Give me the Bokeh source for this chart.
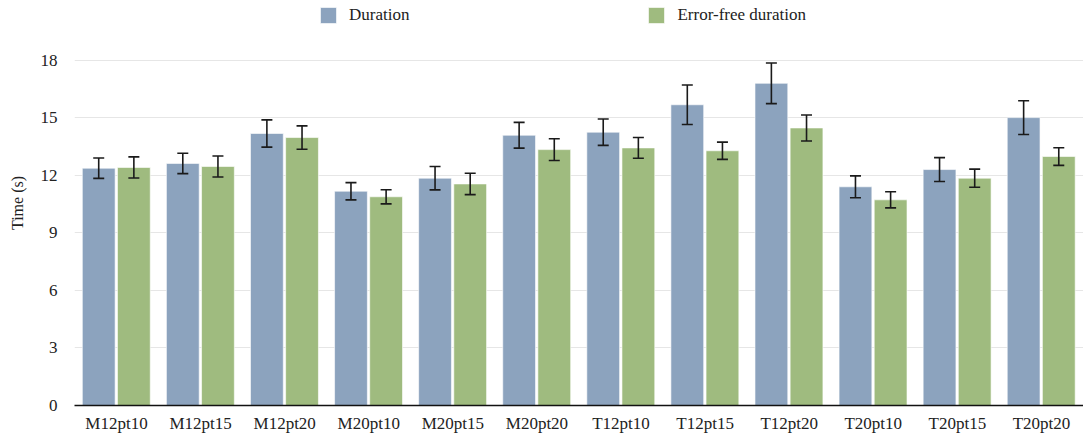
from bokeh.plotting import figure
from bokeh.models import (ColumnDataSource, FactorRange, FixedTicker, Whisker,
                          TeeHead, Legend, LegendItem, Range1d)
from bokeh.transform import dodge
from bokeh.embed import file_html
from bokeh.resources import INLINE

categories = ["M12pt10", "M12pt15", "M12pt20", "M20pt10", "M20pt15", "M20pt20",
              "T12pt10", "T12pt15", "T12pt20", "T20pt10", "T20pt15", "T20pt20"]
duration = [12.38, 12.63, 14.19, 11.18, 11.86, 14.10, 14.26, 15.69, 16.81, 11.41, 12.31, 15.02]
duration_err = [0.53, 0.53, 0.71, 0.45, 0.61, 0.67, 0.69, 1.03, 1.06, 0.57, 0.62, 0.88]
errfree = [12.42, 12.47, 13.98, 10.89, 11.56, 13.35, 13.44, 13.29, 14.48, 10.73, 11.86, 12.99]
errfree_err = [0.55, 0.55, 0.61, 0.37, 0.56, 0.57, 0.54, 0.45, 0.68, 0.42, 0.47, 0.46]
y_ticks = [0, 3, 6, 9, 12, 15, 18]

FONT = "Liberation Serif"
BLUE = "#8ca3be"
GREEN = "#9fbb7f"

src = ColumnDataSource(dict(
    cat=categories,
    d=duration,
    d_lo=[v - e for v, e in zip(duration, duration_err)],
    d_hi=[v + e for v, e in zip(duration, duration_err)],
    f=errfree,
    f_lo=[v - e for v, e in zip(errfree, errfree_err)],
    f_hi=[v + e for v, e in zip(errfree, errfree_err)],
))

# frame spans the full height above the axis so the legend (drawn inside
# the frame) sits in the top band; 18 stays at the same pixel height.
p = figure(width=1083, height=437, output_backend="svg", toolbar_location=None,
           x_range=FactorRange(factors=categories, range_padding=0),
           y_range=Range1d(0, 21.13),
           min_border_left=74, min_border_right=0, min_border_top=0,
           min_border_bottom=32)
p.outline_line_color = None
p.background_fill_color = "white"

bw = 0.39
r1 = p.vbar(x=dodge("cat", -0.212, range=p.x_range), top="d", width=bw, source=src,
            fill_color=BLUE, line_color="white", line_alpha=0.6, line_width=1)
r2 = p.vbar(x=dodge("cat", 0.206, range=p.x_range), top="f", width=bw, source=src,
            fill_color=GREEN, line_color="white", line_alpha=0.6, line_width=1)

for off, lo, hi in [(-0.212, "d_lo", "d_hi"), (0.206, "f_lo", "f_hi")]:
    w = Whisker(base=dodge("cat", off, range=p.x_range), lower=lo, upper=hi,
                source=src, line_color="#1a1a1a", line_width=1.6, level="annotation",
                upper_head=TeeHead(size=11, line_color="#1a1a1a", line_width=1.6),
                lower_head=TeeHead(size=11, line_color="#1a1a1a", line_width=1.6))
    p.add_layout(w)

# axes
p.yaxis.ticker = FixedTicker(ticks=y_ticks)
p.yaxis.axis_line_color = None
p.yaxis.major_tick_line_color = None
p.yaxis.minor_tick_line_color = None
p.yaxis.major_tick_out = 0
p.yaxis.major_label_standoff = 17
p.yaxis.major_label_text_font = FONT
p.yaxis.major_label_text_font_size = "17px"
p.yaxis.major_label_text_color = "#222222"
p.yaxis.axis_label = "Time (s)"
p.yaxis.axis_label_text_font = FONT
p.yaxis.axis_label_text_font_size = "16px"
p.yaxis.axis_label_text_font_style = "normal"
p.yaxis.axis_label_text_color = "#222222"
p.yaxis.axis_label_standoff = 12

p.xaxis.axis_line_color = "#111111"
p.xaxis.axis_line_width = 1.6
p.xaxis.major_tick_line_color = None
p.xaxis.minor_tick_line_color = None
p.xaxis.major_tick_out = 0
p.xaxis.major_label_standoff = 8
p.xaxis.major_label_text_font = FONT
p.xaxis.major_label_text_font_size = "17px"
p.xaxis.major_label_text_color = "#222222"

p.xgrid.grid_line_color = None
p.ygrid.grid_line_color = "#e6e6e6"
p.ygrid.grid_line_width = 1

legend = Legend(items=[LegendItem(label="Duration", renderers=[r1]),
                       LegendItem(label="Error-free duration", renderers=[r2])],
                orientation="horizontal", location=(244, 380),
                glyph_width=20, glyph_height=20, label_height=20,
                label_standoff=11, spacing=237, padding=0, margin=0,
                background_fill_alpha=0, border_line_alpha=0,
                label_text_font=FONT, label_text_font_size="17px",
                label_text_color="#222222")
p.add_layout(legend)

open("out.html", "w").write(file_html(p, INLINE))
